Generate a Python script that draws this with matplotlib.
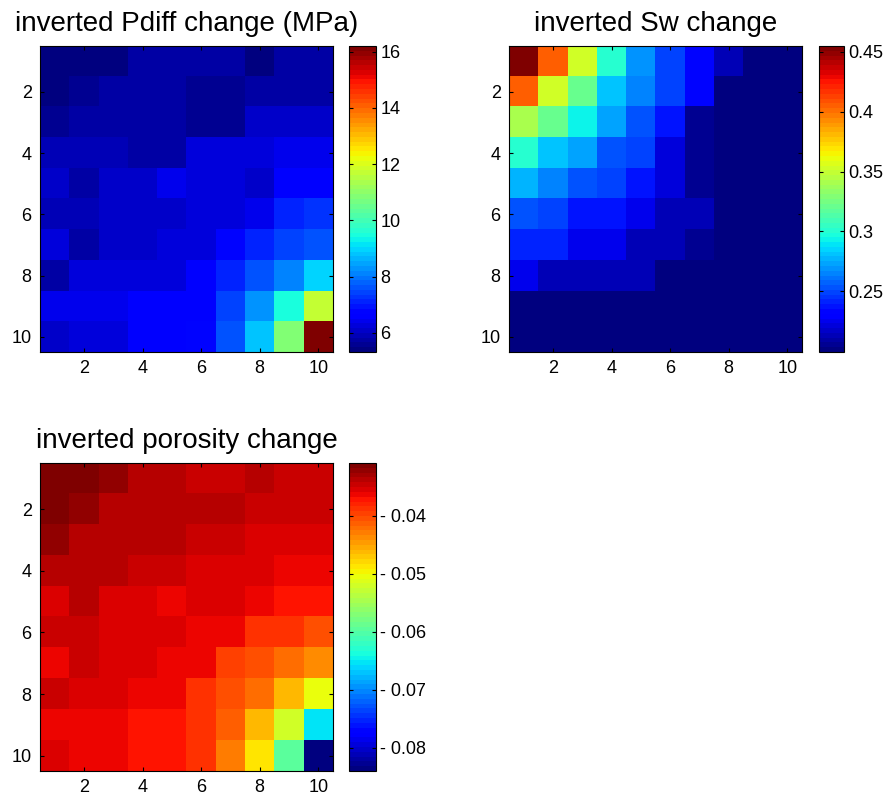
import numpy as np
import matplotlib
matplotlib.use("Agg")
import matplotlib.pyplot as plt

plt.rcParams['font.family'] = ['Liberation Sans', 'DejaVu Sans']

# inverted property changes on the 10 x 10 grid (rows top to bottom)
pdiff_change = [
    [5.36, 5.32, 5.44, 5.68, 5.68, 5.75, 5.75, 5.44, 5.75, 5.75],
    [5.36, 5.61, 5.68, 5.68, 5.68, 5.56, 5.56, 5.75, 5.75, 5.75],
    [5.61, 5.80, 5.80, 5.80, 5.80, 5.56, 5.56, 6.16, 6.16, 6.16],
    [5.85, 5.85, 5.85, 5.80, 5.80, 6.23, 6.23, 6.23, 6.40, 6.40],
    [6.16, 5.80, 6.16, 6.16, 6.40, 6.23, 6.23, 6.16, 6.52, 6.52],
    [5.85, 5.85, 6.16, 6.16, 6.16, 6.23, 6.23, 6.47, 7.09, 7.22],
    [6.23, 5.75, 6.16, 6.16, 6.28, 6.28, 6.82, 7.09, 7.50, 7.63],
    [5.80, 6.23, 6.23, 6.23, 6.28, 6.60, 7.09, 7.63, 8.18, 8.99],
    [6.40, 6.40, 6.40, 6.55, 6.55, 6.60, 7.36, 8.31, 9.47, 11.66],
    [6.16, 6.33, 6.33, 6.55, 6.55, 6.82, 7.63, 8.86, 10.81, 16.20],
]

sw_change = [
    [0.455, 0.404, 0.353, 0.301, 0.269, 0.248, 0.232, 0.212, 0.199, 0.199],
    [0.404, 0.353, 0.319, 0.283, 0.263, 0.250, 0.232, 0.199, 0.199, 0.199],
    [0.340, 0.319, 0.295, 0.271, 0.255, 0.237, 0.204, 0.199, 0.199, 0.199],
    [0.301, 0.283, 0.273, 0.253, 0.250, 0.222, 0.206, 0.199, 0.199, 0.199],
    [0.276, 0.266, 0.255, 0.250, 0.237, 0.222, 0.206, 0.199, 0.199, 0.199],
    [0.255, 0.250, 0.237, 0.237, 0.225, 0.212, 0.212, 0.199, 0.199, 0.199],
    [0.240, 0.240, 0.225, 0.225, 0.212, 0.212, 0.204, 0.199, 0.199, 0.199],
    [0.225, 0.212, 0.212, 0.212, 0.212, 0.202, 0.199, 0.199, 0.199, 0.199],
    [0.199, 0.199, 0.199, 0.199, 0.199, 0.199, 0.199, 0.199, 0.199, 0.199],
    [0.199, 0.199, 0.199, 0.199, 0.199, 0.199, 0.199, 0.199, 0.199, 0.199],
]

porosity_change = [
    [-0.0314, -0.0309, -0.0324, -0.0338, -0.0338, -0.0346, -0.0346, -0.0338, -0.0346, -0.0346],
    [-0.0314, -0.0324, -0.0338, -0.0338, -0.0338, -0.0338, -0.0338, -0.0346, -0.0346, -0.0346],
    [-0.0321, -0.0338, -0.0338, -0.0338, -0.0338, -0.0346, -0.0346, -0.0358, -0.0358, -0.0358],
    [-0.0342, -0.0342, -0.0342, -0.0346, -0.0346, -0.0358, -0.0358, -0.0358, -0.0362, -0.0362],
    [-0.0358, -0.0338, -0.0358, -0.0358, -0.0362, -0.0358, -0.0358, -0.0362, -0.0371, -0.0371],
    [-0.0346, -0.0346, -0.0358, -0.0358, -0.0358, -0.0362, -0.0362, -0.0385, -0.0385, -0.0404],
    [-0.0362, -0.0346, -0.0358, -0.0358, -0.0362, -0.0362, -0.0393, -0.0404, -0.0422, -0.0436],
    [-0.0344, -0.0358, -0.0358, -0.0362, -0.0362, -0.0385, -0.0407, -0.0422, -0.0464, -0.0500],
    [-0.0362, -0.0362, -0.0362, -0.0374, -0.0374, -0.0385, -0.0414, -0.0464, -0.0522, -0.0654],
    [-0.0358, -0.0362, -0.0362, -0.0374, -0.0374, -0.0385, -0.0428, -0.0486, -0.0597, -0.0840],
]

grid_ticks = [2, 4, 6, 8, 10]
pdiff_cticks = [6, 8, 10, 12, 14, 16]
sw_cticks = [0.25, 0.3, 0.35, 0.4, 0.45]
poro_cticks = [-0.08, -0.07, -0.06, -0.05, -0.04]

cmap = plt.get_cmap('jet', 64)

fig = plt.figure(figsize=(8.87, 7.99), dpi=100)


def tick_text(t):
    # negative labels get a gap after the sign
    return f'- {abs(t):g}' if t < 0 else f'{t:g}'


def panel(ax_rect, cb_rect, data, title, cticks):
    ax = fig.add_axes(ax_rect)
    cax = fig.add_axes(cb_rect)
    im = ax.imshow(np.array(data), cmap=cmap, aspect='auto',
                   interpolation='nearest', extent=(0.5, 10.5, 10.5, 0.5))
    ax.set_xticks(grid_ticks)
    ax.set_yticks(grid_ticks)
    ax.tick_params(direction='in', length=3, width=0.8, labelsize=13,
                   top=True, right=True, pad=6)
    ax.set_title(title, fontsize=20, pad=11)
    cb = fig.colorbar(im, cax=cax, ticks=cticks)
    cb.ax.tick_params(direction='in', length=3, width=0.8, labelsize=13,
                      left=True, right=True, pad=3)
    cb.ax.set_yticklabels([tick_text(t) for t in cticks])
    cb.outline.set_linewidth(0.8)
    for s in ax.spines.values():
        s.set_linewidth(0.8)
    return ax


panel([0.0451, 0.5594, 0.3303, 0.383], [0.3935, 0.5594, 0.0304, 0.383],
      pdiff_change, 'inverted Pdiff change (MPa)', pdiff_cticks)
panel([0.5738, 0.5594, 0.3303, 0.383], [0.9233, 0.5594, 0.0282, 0.383],
      sw_change, 'inverted Sw change', sw_cticks)
panel([0.0451, 0.035, 0.3303, 0.3855], [0.3935, 0.035, 0.0304, 0.3855],
      porosity_change, 'inverted porosity change', poro_cticks)

fig.savefig('out.png', dpi=100)
